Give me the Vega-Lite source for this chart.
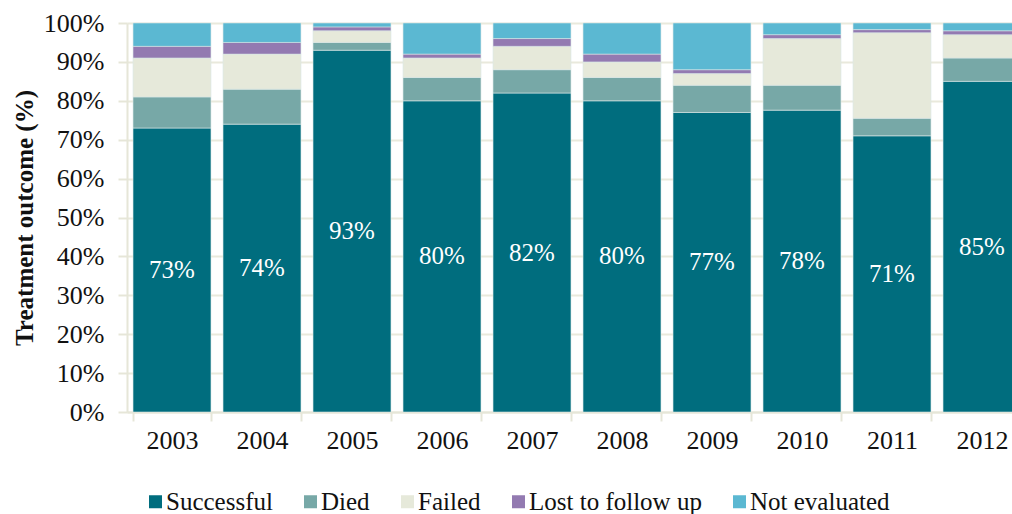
{
  "$schema": "https://vega.github.io/schema/vega-lite/v6.json",
  "autosize": {"type": "none"},
  "padding": {"left": 127, "top": 23, "right": 0, "bottom": 102},
  "width": 885,
  "height": 389,
  "background": "white",
  "config": {
    "view": {"stroke": null},
    "font": "Liberation Serif",
    "axis": {
      "labelFont": "Liberation Serif",
      "titleFont": "Liberation Serif",
      "labelFontSize": 26,
      "labelColor": "#111111",
      "labelOverlap": false,
      "domainColor": "#e6e6d8",
      "domainWidth": 2,
      "tickColor": "#e6e6d8",
      "tickWidth": 2,
      "tickSize": 9,
      "gridColor": "#e9e9dc",
      "gridWidth": 2
    },
    "legend": {
      "labelFont": "Liberation Serif",
      "labelFontSize": 25,
      "labelColor": "#111111",
      "labelLimit": 400
    }
  },
  "data": {
    "values": [
      {"year": "2003", "outcome": "Successful", "share": 0.73},
      {"year": "2003", "outcome": "Died", "share": 0.08},
      {"year": "2003", "outcome": "Failed", "share": 0.10},
      {"year": "2003", "outcome": "Lost to follow up", "share": 0.03},
      {"year": "2003", "outcome": "Not evaluated", "share": 0.06},
      {"year": "2004", "outcome": "Successful", "share": 0.74},
      {"year": "2004", "outcome": "Died", "share": 0.09},
      {"year": "2004", "outcome": "Failed", "share": 0.09},
      {"year": "2004", "outcome": "Lost to follow up", "share": 0.03},
      {"year": "2004", "outcome": "Not evaluated", "share": 0.05},
      {"year": "2005", "outcome": "Successful", "share": 0.93},
      {"year": "2005", "outcome": "Died", "share": 0.02},
      {"year": "2005", "outcome": "Failed", "share": 0.03},
      {"year": "2005", "outcome": "Lost to follow up", "share": 0.01},
      {"year": "2005", "outcome": "Not evaluated", "share": 0.01},
      {"year": "2006", "outcome": "Successful", "share": 0.80},
      {"year": "2006", "outcome": "Died", "share": 0.06},
      {"year": "2006", "outcome": "Failed", "share": 0.05},
      {"year": "2006", "outcome": "Lost to follow up", "share": 0.01},
      {"year": "2006", "outcome": "Not evaluated", "share": 0.08},
      {"year": "2007", "outcome": "Successful", "share": 0.82},
      {"year": "2007", "outcome": "Died", "share": 0.06},
      {"year": "2007", "outcome": "Failed", "share": 0.06},
      {"year": "2007", "outcome": "Lost to follow up", "share": 0.02},
      {"year": "2007", "outcome": "Not evaluated", "share": 0.04},
      {"year": "2008", "outcome": "Successful", "share": 0.80},
      {"year": "2008", "outcome": "Died", "share": 0.06},
      {"year": "2008", "outcome": "Failed", "share": 0.04},
      {"year": "2008", "outcome": "Lost to follow up", "share": 0.02},
      {"year": "2008", "outcome": "Not evaluated", "share": 0.08},
      {"year": "2009", "outcome": "Successful", "share": 0.77},
      {"year": "2009", "outcome": "Died", "share": 0.07},
      {"year": "2009", "outcome": "Failed", "share": 0.03},
      {"year": "2009", "outcome": "Lost to follow up", "share": 0.01},
      {"year": "2009", "outcome": "Not evaluated", "share": 0.12},
      {"year": "2010", "outcome": "Successful", "share": 0.776},
      {"year": "2010", "outcome": "Died", "share": 0.064},
      {"year": "2010", "outcome": "Failed", "share": 0.12},
      {"year": "2010", "outcome": "Lost to follow up", "share": 0.01},
      {"year": "2010", "outcome": "Not evaluated", "share": 0.03},
      {"year": "2011", "outcome": "Successful", "share": 0.71},
      {"year": "2011", "outcome": "Died", "share": 0.045},
      {"year": "2011", "outcome": "Failed", "share": 0.22},
      {"year": "2011", "outcome": "Lost to follow up", "share": 0.008},
      {"year": "2011", "outcome": "Not evaluated", "share": 0.017},
      {"year": "2012", "outcome": "Successful", "share": 0.85},
      {"year": "2012", "outcome": "Died", "share": 0.06},
      {"year": "2012", "outcome": "Failed", "share": 0.06},
      {"year": "2012", "outcome": "Lost to follow up", "share": 0.01},
      {"year": "2012", "outcome": "Not evaluated", "share": 0.02}
    ]
  },
  "encoding": {
    "x": {
      "field": "year",
      "type": "ordinal",
      "scale": {"range": [0, 900], "paddingInner": 0.134, "paddingOuter": 0.067},
      "axis": {
        "title": null,
        "labelAngle": 0,
        "labelPadding": 6,
        "tickBand": "extent",
        "grid": false
      }
    }
  },
  "layer": [
    {
      "mark": {"type": "bar", "stroke": "#d9e6e6", "strokeWidth": 0.6},
      "encoding": {
        "y": {
          "field": "share",
          "type": "quantitative",
          "stack": "zero",
          "scale": {"domain": [0, 1], "nice": false},
          "axis": {
            "title": "Treatment outcome (%)",
            "titleFontSize": 25,
            "titleFontWeight": "bold",
            "titleColor": "#111111",
            "titlePadding": 6,
            "format": ".0%",
            "values": [0, 0.1, 0.2, 0.3, 0.4, 0.5, 0.6, 0.7, 0.8, 0.9, 1],
            "labelOverlap": false,
            "labelPadding": 14,
            "grid": true
          }
        },
        "color": {
          "field": "outcome",
          "type": "nominal",
          "sort": ["Successful", "Died", "Failed", "Lost to follow up", "Not evaluated"],
          "scale": {
            "domain": ["Successful", "Died", "Failed", "Lost to follow up", "Not evaluated"],
            "range": ["#006d7e", "#77a8a7", "#e6e9da", "#937ab1", "#5bb8d2"]
          },
          "legend": {
            "title": null,
            "orient": "none",
            "direction": "horizontal",
            "legendX": 16,
            "legendY": 466,
            "symbolType": "square",
            "symbolSize": 169,
            "symbolStrokeWidth": 0,
            "labelOffset": -2,
            "columnPadding": 25,
            "padding": 0
          }
        },
        "order": {"field": "outcomeRank", "type": "quantitative"}
      },
      "transform": [
        {"calculate": "indexof(['Successful','Died','Failed','Lost to follow up','Not evaluated'], datum.outcome)", "as": "outcomeRank"}
      ]
    },
    {
      "transform": [
        {"filter": "datum.outcome === 'Successful'"},
        {"calculate": "datum.share / 2", "as": "labelPos"}
      ],
      "mark": {"type": "text", "color": "white", "fontSize": 25, "font": "Liberation Serif", "baseline": "middle"},
      "encoding": {
        "y": {
          "field": "labelPos",
          "type": "quantitative",
          "scale": {"domain": [0, 1], "nice": false},
          "axis": {
            "title": "Treatment outcome (%)",
            "titleFontSize": 25,
            "titleFontWeight": "bold",
            "titleColor": "#111111",
            "titlePadding": 6,
            "format": ".0%",
            "values": [0, 0.1, 0.2, 0.3, 0.4, 0.5, 0.6, 0.7, 0.8, 0.9, 1],
            "labelOverlap": false,
            "labelPadding": 14,
            "grid": true
          }
        },
        "text": {"field": "share", "type": "quantitative", "format": ".0%"}
      }
    }
  ]
}
